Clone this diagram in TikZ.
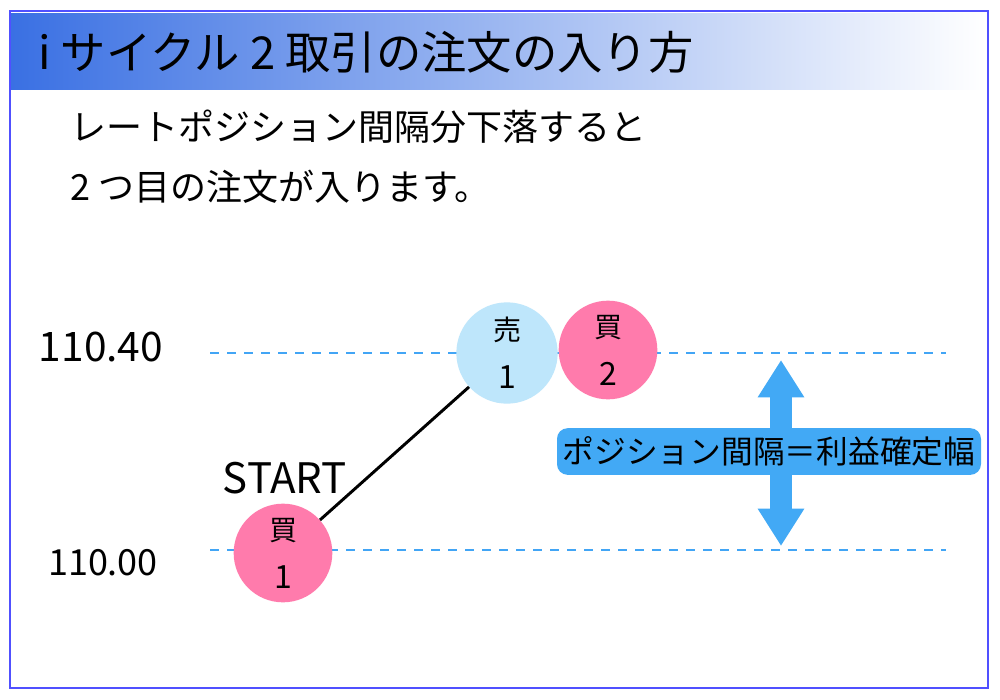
\documentclass[tikz,border=0pt]{standalone}
\usepackage{fontspec}
\setmainfont{Noto Sans CJK JP}
\usetikzlibrary{arrows.meta}
\definecolor{pinkc}{RGB}{255,123,172}
\definecolor{lblue}{RGB}{190,230,251}
\definecolor{arrblue}{RGB}{66,169,245}
\definecolor{dashblue}{RGB}{66,165,245}
\definecolor{framec}{RGB}{80,80,255}
\definecolor{titlec}{RGB}{58,112,227}
\newcommand{\bignum}[1]{{\fontsize{24}{36}\selectfont #1}}
\tikzset{
  ordercircle/.style={circle,inner sep=0pt,minimum size=74pt,align=center,font=\fontsize{21}{36}\selectfont},
  levelline/.style={dashblue,line width=1.1pt,dash pattern=on 6.75pt off 6pt},
  pricelabel/.style={inner sep=0pt},
}
\begin{document}
\begin{tikzpicture}[x=0.75pt,y=-0.75pt]
\useasboundingbox (0,0) rectangle (1000,700);
\fill[white] (0,0) rectangle (1000,700);
% title band
\shade[left color=titlec,right color=white] (11,13) rectangle (986,89);
% frame
\draw[framec,line width=1.5pt] (10,11) rectangle (988,688);
\node[anchor=west,inner sep=0pt,font=\fontsize{34}{36}\selectfont] (title) at (38,52) {i サイクル 2 取引の注文の入り方};
\node[anchor=west,inner sep=0pt,font=\fontsize{27}{30}\selectfont] (line1) at (70,127) {レートポジション間隔分下落すると};
\node[anchor=west,inner sep=0pt,font=\fontsize{27}{30}\selectfont] (line2) at (70,187) {2 つ目の注文が入ります。};
% dashed levels
\coordinate (u1) at (210,353);
\coordinate (u2) at (946,353);
\coordinate (d1) at (210,550);
\coordinate (d2) at (946,550);
\draw[levelline] (u1) -- (u2);
\draw[levelline] (d1) -- (d2);
% price labels
\node[pricelabel,font=\fontsize{30.5}{34}\selectfont] (p40) at (101,347) {110.40};
\node[pricelabel,font=\fontsize{27}{30}\selectfont] (p00) at (103,563) {110.00};
\node[pricelabel,font=\fontsize{31.5}{36}\selectfont] (start) at (285,478) {START};
% circles
\node[ordercircle,fill=pinkc] (buy1) at (283,553) {買\\\bignum{1}};
\node[ordercircle,fill=lblue,minimum size=76pt] (sell1) at (507,353) {売\\\bignum{1}};
\node[ordercircle,fill=pinkc] (buy2) at (608,350) {買\\\bignum{2}};
\draw[black,line width=2.2pt] (buy1) -- (sell1);
% double arrow
\coordinate (atop) at (781,360);
\coordinate (abot) at (781,546);
\draw[arrblue,line width=16.5pt,{Triangle[length=28pt,width=33pt]}-{Triangle[length=28pt,width=33pt]}] (atop) -- (abot);
\node[fill=arrblue,rounded corners=8pt,minimum width=318pt,minimum height=35pt,inner sep=0pt,font=\fontsize{23.8}{26}\selectfont] (gap) at (769,451.5) {ポジション間隔＝利益確定幅};
\end{tikzpicture}
\end{document}
